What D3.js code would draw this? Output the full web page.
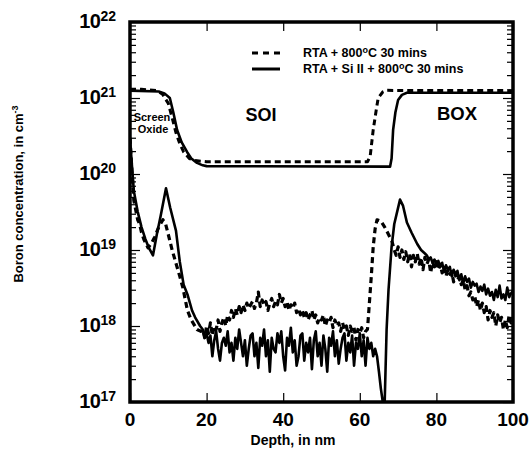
<!DOCTYPE html>
<html>
<head>
<meta charset="utf-8">
<script src="https://cdn.jsdelivr.net/npm/d3@7"></script>
<style>
  body { margin: 0; background: #fff; }
  text { font-family: "Liberation Sans", Arial, Helvetica, sans-serif; font-weight: bold; fill: #000; }
</style>
</head>
<body>
<div id="canvas"></div>
<script>
// tick labels
let xTicks = [0, 20, 40, 60, 80, 100];
let yExponents = [17, 18, 19, 20, 21, 22];

let legendLabels = ["RTA + 800", "RTA + Si II + 800"];

// upper profiles [depth nm, cm-3]
let upperDashed = [[0, 1.3e21], [3, 1.3e21], [7, 1.25e21], [8.5, 1.12e21], [10, 8.5e20], [11, 5.5e20],
  [12, 3.5e20], [13, 2.5e20], [14, 1.95e20], [15.5, 1.6e20], [17, 1.5e20], [20, 1.45e20],
  [62, 1.45e20], [62.7, 1.7e20], [63.5, 3.8e20], [64.3, 7e20], [64.8, 1.0e21], [66, 1.2e21],
  [67, 1.26e21], [100, 1.25e21]];
let upperSolid = [[0, 1.25e21], [7.5, 1.22e21], [9, 1.15e21], [10.4, 1.0e21], [11.3, 6.5e20],
  [12.3, 3.8e20], [13.5, 2.6e20], [14.9, 1.95e20], [16, 1.6e20], [17.5, 1.4e20], [19, 1.3e20],
  [20, 1.27e20], [67.9, 1.25e20], [68.3, 1.6e20], [68.7, 3.8e20], [69.3, 6.5e20], [70, 9.4e20],
  [71, 1.1e21], [72.3, 1.17e21], [100, 1.17e21]];

// lower profiles, smooth parts [depth nm, cm-3]
let lowerDashedHead = [[0, 3e20], [0.5, 1.1e20], [1, 4.5e19], [2, 2.5e19], [2.5, 2.2e19], [3, 1.7e19],
  [3.7, 1.35e19], [4.7, 1.07e19], [5.5, 1.2e19], [6.5, 1.5e19], [7.5, 2e19], [8.6, 2.5e19],
  [9.3, 2.2e19], [10, 1.6e19], [11, 1e19], [12, 6.7e18], [13, 4.5e18], [13.8, 3.2e18],
  [15, 1.6e18], [16, 1.2e18], [17.5, 9e17], [18.5, 8.5e17]];
let lowerDashedRise = [[62, 9e17], [62.5, 2e18], [63, 4.5e18], [63.5, 1.1e19], [64, 1.9e19],
  [64.5, 2.5e19], [65.5, 2.4e19], [66.5, 2e19], [67.5, 1.6e19], [68.4, 1.3e19]];
let lowerSolidHead = [[0, 3e20], [0.5, 1.3e20], [1, 6e19], [2, 3.2e19], [3, 2e19], [4, 1.4e19],
  [5, 1.05e19], [6, 8.5e18], [7, 1.6e19], [8, 2.8e19], [9.4, 6.5e19], [10.5, 3.6e19], [12, 1.8e19],
  [13, 7e18], [14, 3.5e18], [15, 2.6e18], [16.2, 1.6e18], [17, 1.3e18], [18.3, 1e18], [19, 9e17],
  [19.5, 7e17]];
let lowerSolidRise = [[64.5, 4e17], [65, 2.5e17], [65.5, 1.5e17], [66, 1e17], [66.5, 1e17],
  [67, 9e17], [67.5, 3e18], [68.3, 1.1e19], [69, 2.2e19], [70.5, 4.6e19], [71.3, 3.8e19],
  [72.3, 2.3e19], [73.5, 1.7e19], [75, 1.2e19], [76, 1.0e19], [77, 9e18]];

// noisy parts, read every 0.5 nm
// dashed in SOI, 19 to 61.5 nm, units of 1e17
let dashedSoi = [9, 7, 10, 8, 11, 7.5, 10, 9, 12, 8.5, 11, 13, 10, 14, 12, 16, 13, 17, 14, 18,
  15, 19, 16, 20, 17, 19, 21, 17, 20, 28, 18, 22, 19, 21, 16, 20, 23, 18, 21, 19,
  26, 20, 23, 18, 21, 16, 19, 17, 20, 15, 17, 14, 16, 13, 15, 12, 14, 16, 12, 14,
  11, 13, 12, 14, 10, 12, 11, 13, 9.5, 12, 10, 11, 8.5, 11, 9, 10, 7.5, 10, 8.5, 9.5,
  6.5, 9, 8, 9.5, 7, 8.5];
// dashed in BOX, 69 to 100 nm, units of 1e18
let dashedBox = [10, 8.5, 11, 8, 10, 7.5, 9.5, 7, 9, 6, 8.5, 7, 9, 6.5, 8, 5.5, 8, 6.5, 7.5, 5,
  7, 6, 7, 5.5, 6.5, 5, 6, 4.5, 5.5, 4.8, 5.2, 3.8, 4.8, 4, 4.5, 3.5, 4, 3, 3.4, 2.5,
  2.8, 2.2, 2.5, 1.8, 2.2, 1.6, 2, 1.5, 1.8, 1.2, 1.6, 1.3, 1.5, 1.0, 1.4, 1.1, 1.3, 0.9, 1.2, 0.95,
  1.4, 1.1, 1.3];
// solid in SOI, 20 to 64 nm, units of 1e17
let solidSoi = [8, 6, 7.5, 4, 6.5, 8.5, 5, 3.5, 6, 7, 5.5, 8.5, 4.5, 6, 3.5, 7, 5, 9, 6, 4,
  6.5, 3, 5, 7.5, 8, 4, 6, 2.8, 7, 5.5, 9, 4, 6.5, 2.5, 7, 5, 4.5, 8, 6, 8.5,
  4, 2.6, 7, 5.5, 9.5, 4.5, 6.5, 3, 4, 7.5, 8, 3.5, 6, 4.5, 7, 2.7, 6.5, 8.5, 4, 6,
  3, 7.5, 5, 2.5, 7, 5.5, 8.5, 4, 6.5, 3.2, 5, 7, 8, 3.5, 6, 4.5, 7.5, 3, 6, 5,
  8, 4, 6.5, 3, 7, 5, 6, 4, 5];
// solid in BOX, 77.5 to 100 nm, units of 1e18
let solidBox = [8.5, 7.5, 8, 6.8, 7.5, 6.5, 7.2, 6, 6.8, 5.2, 6.3, 5.5, 6, 4.5, 5.5, 4.8, 5.3, 4, 4.8, 3.6,
  4.5, 3.8, 4.2, 3.2, 3.8, 3.4, 3.6, 2.8, 3.3, 2.9, 3.5, 2.6, 3.1, 2.5, 2.8, 2.2, 3, 2.4, 3.4, 2.3,
  2.6, 2.2, 3.2, 2.4, 2.7, 2.9];

function noisy(start, values, unit) {
  return values.map((v, i) => [start + i * 0.5, v * unit]);
}

let lowerDashed = lowerDashedHead
  .concat(noisy(19, dashedSoi, 1e17))
  .concat(lowerDashedRise)
  .concat(noisy(69, dashedBox, 1e18));
let lowerSolid = lowerSolidHead
  .concat(noisy(20, solidSoi, 1e17))
  .concat(lowerSolidRise)
  .concat(noisy(77.5, solidBox, 1e18));

let width = 531;
let height = 451;
let margin = { top: 22, bottom: 49, left: 130, right: 18 };

let escalaX = d3.scaleLinear()
  .domain([0, 100])
  .range([margin.left, width - margin.right]);
let escalaY = d3.scaleLog()
  .domain([1e17, 1e22])
  .range([height - margin.bottom, margin.top]);

let svg = d3.select("#canvas")
  .append("svg")
  .attr("width", width)
  .attr("height", height);

svg.append("clipPath").attr("id", "plot")
  .append("rect")
  .attr("x", margin.left)
  .attr("y", margin.top)
  .attr("width", escalaX(100) - escalaX(0))
  .attr("height", escalaY(1e17) - escalaY(1e22));

let linea = d3.line()
  .x(d => escalaX(d[0]))
  .y(d => escalaY(d[1]));

let curvas = [
  { pts: upperSolid, dash: null, w: 2.6 },
  { pts: upperDashed, dash: "6,4", w: 3 },
  { pts: lowerSolid, dash: null, w: 2.6 },
  { pts: lowerDashed, dash: "6,4", w: 3.2 }
];

svg.append("g")
  .attr("clip-path", "url(#plot)")
  .selectAll("path")
  .data(curvas)
  .enter()
  .append("path")
  .attr("d", d => linea(d.pts))
  .attr("fill", "none")
  .attr("stroke", "#000")
  .attr("stroke-width", d => d.w)
  .attr("stroke-linejoin", "round")
  .attr("stroke-dasharray", d => d.dash);

// ticks, all pointing inward
let mayores = yExponents.map(e => Math.pow(10, e));
let menores = [];
yExponents.slice(0, -1).forEach(e => {
  for (let k = 2; k < 10; k++) menores.push(k * Math.pow(10, e));
});

function ejes(g) {
  g.selectAll(".domain").remove();
  g.selectAll("line").attr("stroke", "#000").attr("stroke-width", 1.2);
  g.selectAll("text").remove();
}

svg.append("g")
  .attr("transform", "translate(" + margin.left + ",0)")
  .call(d3.axisLeft(escalaY).tickValues(menores).tickSize(-6))
  .call(ejes);
svg.append("g")
  .attr("transform", "translate(" + margin.left + ",0)")
  .call(d3.axisLeft(escalaY).tickValues(mayores).tickSize(-10))
  .call(ejes);
svg.append("g")
  .attr("transform", "translate(" + escalaX(100) + ",0)")
  .call(d3.axisRight(escalaY).tickValues(menores).tickSize(-6))
  .call(ejes);
svg.append("g")
  .attr("transform", "translate(" + escalaX(100) + ",0)")
  .call(d3.axisRight(escalaY).tickValues(mayores).tickSize(-10))
  .call(ejes);
svg.append("g")
  .attr("transform", "translate(0," + escalaY(1e17) + ")")
  .call(d3.axisBottom(escalaX).tickValues(xTicks).tickSize(-9))
  .call(ejes);
svg.append("g")
  .attr("transform", "translate(0," + escalaY(1e22) + ")")
  .call(d3.axisTop(escalaX).tickValues(xTicks).tickSize(-9))
  .call(ejes);

// frame
svg.append("rect")
  .attr("x", escalaX(0))
  .attr("y", escalaY(1e22))
  .attr("width", escalaX(100) - escalaX(0))
  .attr("height", escalaY(1e17) - escalaY(1e22))
  .attr("fill", "none")
  .attr("stroke", "#000")
  .attr("stroke-width", 3.5);

// y tick labels 10^n
let etiquetasY = svg.append("g").selectAll("text")
  .data(yExponents)
  .enter()
  .append("text")
  .attr("x", 116)
  .attr("y", d => escalaY(Math.pow(10, d)) + 6)
  .attr("text-anchor", "end")
  .attr("font-size", 20);
etiquetasY.append("tspan").text("10").attr("letter-spacing", -0.5);
etiquetasY.append("tspan").text(d => d).attr("font-size", 14).attr("dy", -7);

// x tick labels
svg.append("g").selectAll("text")
  .data(xTicks)
  .enter()
  .append("text")
  .attr("x", d => escalaX(d))
  .attr("y", escalaY(1e17) + 24)
  .attr("text-anchor", "middle")
  .attr("font-size", 19)
  .text(d => d);

svg.append("text")
  .attr("x", 293)
  .attr("y", 445)
  .attr("text-anchor", "middle")
  .attr("font-size", 14)
  .text("Depth, in nm");

let tituloY = svg.append("text")
  .attr("transform", "translate(23,194) rotate(-90)")
  .attr("text-anchor", "middle")
  .attr("font-size", 13);
tituloY.append("tspan").text("Boron concentration, in cm");
tituloY.append("tspan").text("-3").attr("font-size", 9).attr("dy", -5);

// legend
let leyenda = svg.append("g");
[0, 1].forEach(i => {
  let y = 53 + i * 16;
  leyenda.append("line")
    .attr("x1", 252).attr("x2", 280)
    .attr("y1", y).attr("y2", y)
    .attr("stroke", "#000")
    .attr("stroke-width", 3)
    .attr("stroke-dasharray", i === 0 ? "6,5" : null);
  let t = leyenda.append("text")
    .attr("x", 303)
    .attr("y", y + 4)
    .attr("font-size", 12.5);
  t.append("tspan").text(legendLabels[i]);
  t.append("tspan").text("o").attr("font-size", 9).attr("dy", -4);
  t.append("tspan").text("C 30 mins").attr("dy", 4);
});

// region labels
svg.append("text").attr("x", 261).attr("y", 121).attr("text-anchor", "middle")
  .attr("font-size", 18).text("SOI");
svg.append("text").attr("x", 457).attr("y", 120).attr("text-anchor", "middle")
  .attr("font-size", 18.5).text("BOX");
svg.append("text").attr("x", 152).attr("y", 121).attr("text-anchor", "middle")
  .attr("font-size", 11).text("Screen");
svg.append("text").attr("x", 153).attr("y", 133).attr("text-anchor", "middle")
  .attr("font-size", 11).text("Oxide");
</script>
</body>
</html>
